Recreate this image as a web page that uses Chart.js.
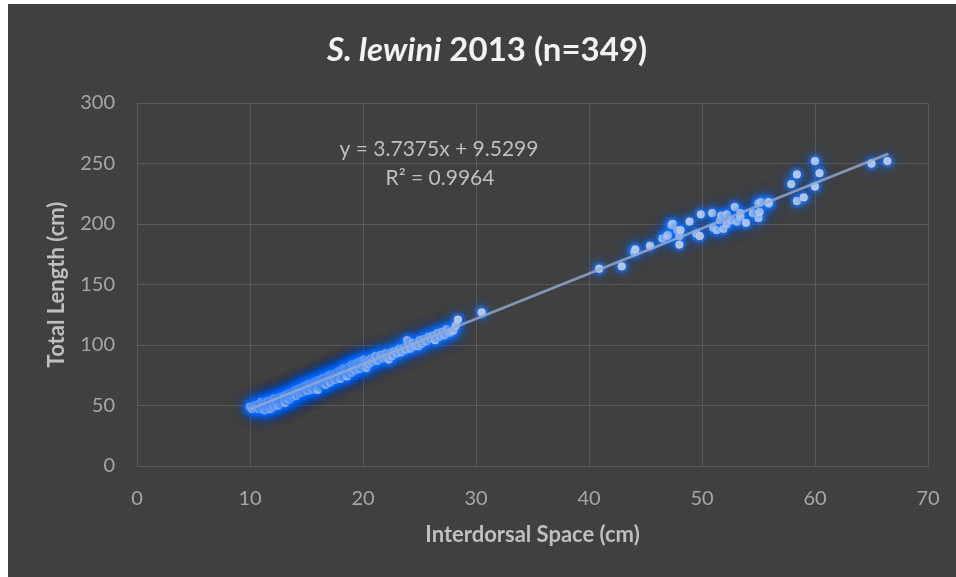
<!DOCTYPE html>
<html>
<head>
<meta charset="utf-8">
<script src="https://cdn.jsdelivr.net/npm/chart.js@4/dist/chart.umd.min.js"></script>
<style>
  html, body { margin: 0; padding: 0; background: #ffffff; }
  #wrap { position: absolute; left: 0; top: 0; width: 956px; height: 577px; }
</style>
</head>
<body>
<div id="wrap"><canvas id="c" width="956" height="577"></canvas></div>
<script>
// ---- Data ----
const titleItalic = "S. lewini";
const titleRest = " 2013 (n=349)";
const xAxisTitle = "Interdorsal Space (cm)";
const yAxisTitle = "Total Length (cm)";
const equationText = "y = 3.7375x + 9.5299";
const r2Text = "R\u00B2 = 0.9964";

const xTicks = [0, 10, 20, 30, 40, 50, 60, 70];
const yTicks = [0, 50, 100, 150, 200, 250, 300];

// small-shark cluster (interdorsal space, total length)
const smallX = [10.0,10.2,10.4,10.5,10.7,10.8,11.0,11.0,11.1,11.2,11.3,11.4,11.5,11.6,11.7,11.8,11.9,12.0,12.0,12.1,
  12.2,12.3,12.4,12.5,12.6,12.7,12.8,12.9,13.0,13.0,13.1,13.2,13.3,13.4,13.5,13.6,13.7,13.8,13.9,14.0,
  14.0,14.1,14.2,14.3,14.4,14.5,14.6,14.7,14.8,14.9,15.0,15.0,15.1,15.2,15.3,15.4,15.5,15.6,15.7,15.8,
  15.9,16.0,16.0,16.1,16.2,16.3,16.4,16.5,16.6,16.7,16.8,16.9,17.0,17.0,17.1,17.2,17.3,17.4,17.5,17.6,
  17.7,17.8,17.9,18.0,18.0,18.1,18.2,18.3,18.4,18.5,18.6,18.7,18.8,18.9,19.0,19.0,19.1,19.2,19.3,19.4,
  19.5,19.6,19.7,19.8,19.9,20.0,20.1,20.2,20.3,20.4,20.5,20.7,20.8,21.0,21.1,21.3,21.5,21.6,21.8,22.0,
  22.1,22.3,22.5,22.6,22.8,23.0,23.2,23.4,23.6,23.8,23.9,24.0,24.2,24.4,24.6,24.9,25.0,25.2,25.4,25.6,
  25.8,26.0,26.2,26.4,26.6,26.8,27.0,27.2,27.4,27.6,27.8,28.0,28.2,28.4,30.5];
const smallY = [49,47,50,48,51,47,50,53,48,51,46,52,49,54,50,47,53,55,51,49,
  56,52,54,50,57,53,55,58,54,57,52,59,56,60,55,58,61,57,59,63,
  60,58,62,64,60,63,65,61,66,63,67,64,62,68,65,67,63,69,66,70,
  67,63,71,68,70,72,69,73,70,67,74,71,75,72,69,76,73,75,71,77,
  74,78,75,72,79,76,78,81,77,80,74,82,79,81,77,84,80,83,79,85,
  82,86,80,84,87,83,88,85,81,87,84,89,86,88,91,87,90,92,89,93,
  90,88,94,91,95,93,97,94,98,96,104,100,97,102,99,99,104,101,105,103,
  107,105,108,104,110,107,111,108,113,110,111,112,116,121,127];

// large-shark cluster
const largeX = [40.9,42.9,44.0,44.1,45.4,46.5,46.9,47.0,47.3,47.4,47.8,48.0,48.0,48.1,48.9,49.5,49.8,49.9,50.9,51.0,
  51.3,51.6,51.7,51.9,52.2,52.2,52.6,52.9,53.1,53.4,53.4,53.9,54.5,55.0,55.0,55.1,55.2,55.9,55.9,57.9,
  58.4,58.4,59.0,60.0,60.0,60.4,65.0,66.4];
const largeY = [163,165,177,179,182,188,190,191,199,200,195,190,183,195,202,192,190,208,209,197,
  195,203,207,196,208,200,203,214,202,209,206,201,209,205,217,210,218,217,218,233,
  241,219,222,252,231,242,250,252];

// fitted trend line end points (as drawn in the chart)
const trendX = [10.0, 66.5];
const trendY = [46.9, 258.1];

// ---- Build datasets ----
const pts = [];
smallX.forEach((x, i) => pts.push({x: x, y: smallY[i]}));
largeX.forEach((x, i) => pts.push({x: x, y: largeY[i]}));
const trendPts = trendX.map((x, i) => ({x: x, y: trendY[i]}));

const BG = '#404040';
const GRID = '#595959';
const TICK = '#a6a6a6';
const TITLE = '#bfbfbf';
const FONT = 'Lato, "Open Sans", "Noto Sans", sans-serif';

const bgPlugin = {
  id: 'bg',
  beforeDraw(chart) {
    const ctx = chart.ctx;
    ctx.save();
    ctx.fillStyle = '#ffffff';
    ctx.fillRect(0, 0, chart.width, chart.height);
    ctx.fillStyle = BG;
    ctx.fillRect(8, 4, chart.width - 8, chart.height - 4);
    ctx.restore();
  }
};

const glowBlur = { data: 8, glow: 14 };
const glowPlugin = {
  id: 'glow',
  beforeDatasetDraw(chart, args) {
    const lbl = chart.data.datasets[args.index].label;
    if (glowBlur[lbl]) {
      const ctx = chart.ctx;
      ctx.save();
      ctx.shadowColor = 'rgba(25,115,255,1)';
      ctx.shadowBlur = glowBlur[lbl];
    }
  },
  afterDatasetDraw(chart, args) {
    const lbl = chart.data.datasets[args.index].label;
    if (glowBlur[lbl]) chart.ctx.restore();
  }
};

const textPlugin = {
  id: 'texts',
  afterDraw(chart) {
    const ctx = chart.ctx;
    ctx.save();
    // title with italic species name
    const f1 = 'italic bold 33px ' + FONT;
    const f2 = 'bold 33px ' + FONT;
    ctx.font = f1; const w1 = ctx.measureText(titleItalic).width;
    ctx.font = f2; const w2 = ctx.measureText(titleRest).width;
    let x0 = 487 - (w1 + w2) / 2;
    ctx.fillStyle = '#f2f2f2';
    ctx.textBaseline = 'middle';
    ctx.textAlign = 'left';
    ctx.font = f1; ctx.fillText(titleItalic, x0, 50);
    ctx.font = f2; ctx.fillText(titleRest, x0 + w1, 50);
    // equation
    ctx.fillStyle = TITLE;
    ctx.textAlign = 'center';
    ctx.font = '21px ' + FONT;
    ctx.fillText(equationText, 439, 149);
    ctx.fillText(r2Text, 440, 178);
    ctx.restore();
  }
};

new Chart(document.getElementById('c'), {
  type: 'scatter',
  data: {
    datasets: [
      {
        label: 'trend',
        type: 'line',
        data: trendPts,
        borderColor: 'rgba(150,170,210,0.8)',
        borderWidth: 2.8,
        pointRadius: 0,
        showLine: true,
        fill: false,
        order: 0
      },
      {
        label: 'data',
        data: pts,
        backgroundColor: '#b8cbea',
        borderColor: 'rgba(200,215,245,0.9)',
        borderWidth: 0.5,
        pointRadius: 3.9,
        order: 1
      },
      {
        label: 'glow',
        data: pts,
        backgroundColor: 'rgba(30,115,250,0.4)',
        borderWidth: 0,
        pointRadius: 7,
        order: 2
      }
    ]
  },
  options: {
    responsive: false,
    animation: false,
    layout: { padding: { left: 0, top: 103, right: 28, bottom: 0 } },
    plugins: {
      legend: { display: false },
      tooltip: { enabled: false },
      title: { display: false }
    },
    scales: {
      x: {
        type: 'linear',
        min: 0, max: 70,
        afterBuildTicks(scale) { scale.ticks = xTicks.map(v => ({value: v})); },
        afterFit(scale) { scale.height = 111; scale.paddingLeft = 0; scale.paddingRight = 0; },
        grid: { color: GRID, lineWidth: 1, drawTicks: false },
        border: { color: GRID, width: 1 },
        ticks: { color: TICK, font: { family: FONT, size: 20 }, padding: 21, maxRotation: 0 },
        title: { display: true, text: xAxisTitle, color: TITLE,
                 font: { family: FONT, size: 22, weight: 'bold' }, padding: { top: 0, bottom: 29 } }
      },
      y: {
        type: 'linear',
        min: 0, max: 300,
        afterBuildTicks(scale) { scale.ticks = yTicks.map(v => ({value: v})); },
        afterFit(scale) { scale.width = 137; scale.paddingTop = 0; scale.paddingBottom = 0; },
        grid: { color: GRID, lineWidth: 1, drawTicks: false },
        border: { color: GRID, width: 1 },
        ticks: { color: TICK, font: { family: FONT, size: 20 }, padding: 22 },
        title: { display: true, text: yAxisTitle, color: TITLE,
                 font: { family: FONT, size: 22, weight: 'bold' }, padding: { top: 44, bottom: 0 } }
      }
    }
  },
  plugins: [bgPlugin, glowPlugin, textPlugin]
});
</script>
</body>
</html>
